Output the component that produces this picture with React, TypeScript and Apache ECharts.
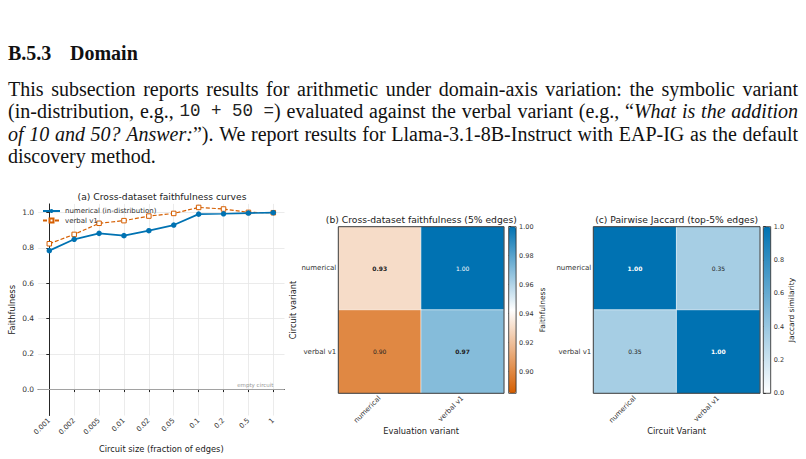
import React, { useEffect, useRef } from 'react';
import * as echarts from 'echarts';

// ---- (a) faithfulness curves ----
const sizeLabels = ['0.001', '0.002', '0.005', '0.01', '0.02', '0.05', '0.1', '0.2', '0.5', '1'];
const numericalCurve = [0.785, 0.849, 0.883, 0.870, 0.898, 0.930, 0.992, 0.994, 0.998, 1.0];
const verbalCurve = [0.824, 0.877, 0.940, 0.955, 0.981, 0.996, 1.030, 1.021, 1.002, 1.0];
const faithTicks = [0, 0.2, 0.4, 0.6, 0.8, 1.0];
const seriesNames = ['numerical (in-distribution)', 'verbal v1'];

// ---- (b) / (c) heatmaps: rows = circuit variant, cols = evaluation variant ----
const variants = ['numerical', 'verbal v1'];
const crossFaith = [
  [0.93, 1.0],
  [0.90, 0.97],
];
const jaccard = [
  [1.0, 0.35],
  [0.35, 1.0],
];
const crossTicks = [0.90, 0.92, 0.94, 0.96, 0.98, 1.0];
const crossRange = [0.885, 1.0];
const jaccardTicks = [0, 0.2, 0.4, 0.6, 0.8, 1.0];

// ---- paper text ----
type Tok = { t: string; f: 'r' | 'i' | 'm'; g?: boolean };
const words = (s: string, f: 'r' | 'i' = 'r'): Tok[] => s.split(' ').map((t) => ({ t, f }));
const headingParts = ['B.5.3', 'Domain'];
const paragraphLines: Tok[][] = [
  words('This subsection reports results for arithmetic under domain-axis variation: the symbolic variant'),
  [
    ...words('(in-distribution, e.g.,'),
    { t: '10 + 50 =', f: 'm' },
    { t: ')', f: 'r', g: true },
    ...words('evaluated against the verbal variant (e.g.,'),
    { t: '\u201c', f: 'r' },
    { t: 'What', f: 'i', g: true },
    ...words('is the addition', 'i'),
  ],
  [
    ...words('of 10 and 50? Answer:', 'i'),
    { t: '\u201d).', f: 'r', g: true },
    ...words('We report results for Llama-3.1-8B-Instruct with EAP-IG as the default'),
  ],
  words('discovery method.'),
];

const BLUE = '#0072B2';
const ORANGE = '#D55E00';
const SERIF = 'Liberation Serif';
const MONO = 'Liberation Mono';
const BODY = 20;
const MONO_SIZE = 17.5;
const TEXT_LEFT = 8;
const TEXT_RIGHT = 798;
const lineCenters = [88.5, 111, 133.5, 156];

const fontCss = (f: 'r' | 'i' | 'm') =>
  f === 'm' ? `${MONO_SIZE}px '${MONO}'` : `${f === 'i' ? 'italic ' : ''}${BODY}px '${SERIF}'`;

// Lays a paragraph line out as rich text; justified lines get stretched inter-word spaces.
function buildLine(tokens: Tok[], justify: boolean) {
  const ctx = document.createElement('canvas').getContext('2d')!;
  const measure = (t: string, f: 'r' | 'i' | 'm') => {
    ctx.font = fontCss(f);
    return ctx.measureText(t).width;
  };
  const total = tokens.reduce((s, tk) => s + measure(tk.t, tk.f), 0);
  const gaps = tokens.filter((tk, i) => i > 0 && !tk.g).length;
  const gap = justify ? (TEXT_RIGHT - TEXT_LEFT - total) / gaps : measure(' ', 'r');
  let text = '';
  tokens.forEach((tk, i) => {
    if (i > 0 && !tk.g) text += '{s| }';
    text += `{${tk.f}|${tk.t}}`;
  });
  const rich = {
    r: { fontFamily: SERIF, fontSize: BODY, fill: '#111' },
    i: { fontFamily: SERIF, fontSize: BODY, fontStyle: 'italic', fill: '#111' },
    m: { fontFamily: MONO, fontSize: MONO_SIZE, fill: '#222' },
    s: { fontFamily: SERIF, fontSize: BODY, width: gap },
  };
  return { text, rich };
}

function heatCells(matrix: number[][], darkFrom: number) {
  const out: any[] = [];
  matrix.forEach((row, r) =>
    row.forEach((v, c) =>
      out.push({
        value: [c, r, v],
        label: { fontWeight: r === c ? 'bold' : 'normal', color: v >= darkFrom ? '#ffffff' : '#222222' },
      })
    )
  );
  return out;
}

function buildOption(): any {
  const paper: any[] = paragraphLines.map((tokens, i) => {
    const { text, rich } = buildLine(tokens, i < paragraphLines.length - 1);
    return {
      type: 'text',
      x: TEXT_LEFT,
      y: lineCenters[i],
      style: { text, rich, fontFamily: SERIF, fontSize: BODY, fill: '#111', verticalAlign: 'middle', align: 'left' },
    };
  });
  paper.push({
    type: 'text',
    x: TEXT_LEFT,
    y: 52.5,
    style: {
      text: `{a|${headingParts[0]}}{b|${headingParts[1]}}`,
      rich: {
        a: { fontFamily: SERIF, fontSize: BODY, fontWeight: 'bold', fill: '#111', width: 62 },
        b: { fontFamily: SERIF, fontSize: BODY, fontWeight: 'bold', fill: '#111' },
      },
      verticalAlign: 'middle',
      align: 'left',
    },
  });

  const titleStyle = { fontFamily: 'DejaVu Sans', fontSize: 9.2, fill: '#222', align: 'center', verticalAlign: 'middle' };
  const titles = [
    { type: 'text', x: 162, y: 196, style: { ...titleStyle, text: '(a) Cross-dataset faithfulness curves' } },
    { type: 'text', x: 421.3, y: 219, style: { ...titleStyle, text: '(b) Cross-dataset faithfulness (5% edges)' } },
    { type: 'text', x: 676.6, y: 219, style: { ...titleStyle, text: '(c) Pairwise Jaccard (top-5% edges)' } },
  ];

  const idx = sizeLabels.map((_, i) => i);
  const spine = { color: '#262626', width: 1 };
  const gridLine = { show: true, lineStyle: { color: '#e6e6e6', width: 0.8 } };
  const nameStyle = { fontSize: 8.3, color: '#222' };
  const heatX = (name: string, gridIndex: number) => ({
    type: 'category',
    gridIndex,
    data: variants,
    axisLine: { show: false },
    axisTick: { show: false },
    axisLabel: { rotate: 45, fontSize: 7, color: '#333', margin: 4 },
    name,
    nameLocation: 'middle',
    nameGap: 31,
    nameTextStyle: nameStyle,
  });
  const heatY = (gridIndex: number, name?: string) => ({
    type: 'category',
    gridIndex,
    data: variants,
    inverse: true,
    axisLine: { show: false },
    axisTick: { show: false },
    axisLabel: { fontSize: 7, color: '#333', margin: 2 },
    name,
    nameLocation: 'middle',
    nameGap: 39,
    nameRotate: 90,
    nameTextStyle: nameStyle,
  });
  const barGrid = (left: number) => ({
    left,
    top: 226.7,
    width: 7.4,
    height: 166.6,
    show: true,
    borderColor: '#222',
    borderWidth: 0.8,
    backgroundColor: 'transparent',
    z: 10,
  });
  const heatGrid = (left: number, width: number) => ({
    left,
    top: 226.7,
    width,
    height: 166.6,
    show: true,
    borderColor: '#3a3a3a',
    borderWidth: 1,
    backgroundColor: 'transparent',
    z: 3,
  });

  return {
    animation: false,
    backgroundColor: '#ffffff',
    textStyle: { fontFamily: 'DejaVu Sans' },
    graphic: [...paper, ...titles],
    legend: {
      data: seriesNames,
      left: 42,
      top: 207.5,
      orient: 'vertical',
      itemWidth: 17,
      itemHeight: 5,
      itemGap: 2.5,
      padding: 0,
      textStyle: { fontSize: 7, color: '#333' },
    },
    grid: [
      { left: 38.1, top: 203.9, width: 246.4, height: 211.6 },
      heatGrid(338.3, 165.7),
      heatGrid(593.3, 166.7),
      barGrid(508.7),
      barGrid(763.3),
    ],
    xAxis: [
      {
        type: 'value',
        gridIndex: 0,
        min: -0.45,
        max: 9.45,
        axisLine: { show: true, lineStyle: spine },
        axisTick: { show: true, length: 3, customValues: idx, lineStyle: spine },
        axisLabel: {
          customValues: idx,
          formatter: (v: number) => sizeLabels[Math.round(v)],
          rotate: 45,
          fontSize: 7,
          color: '#333',
          margin: 4,
        },
        splitLine: gridLine,
        name: 'Circuit size (fraction of edges)',
        nameLocation: 'middle',
        nameGap: 29,
        nameTextStyle: nameStyle,
      },
      heatX('Evaluation variant', 1),
      heatX('Circuit Variant', 2),
      { type: 'value', gridIndex: 3, show: false },
      { type: 'value', gridIndex: 4, show: false },
    ],
    yAxis: [
      {
        type: 'value',
        gridIndex: 0,
        min: -0.15,
        max: 1.05,
        axisLine: { show: true, lineStyle: spine },
        axisTick: { show: true, length: 3, customValues: faithTicks, lineStyle: spine },
        axisLabel: { customValues: faithTicks, formatter: (v: number) => v.toFixed(1), fontSize: 7.5, color: '#333', margin: 4 },
        splitLine: gridLine,
        name: 'Faithfulness',
        nameLocation: 'middle',
        nameGap: 22,
        nameRotate: 90,
        nameTextStyle: nameStyle,
      },
      heatY(1, 'Circuit variant'),
      heatY(2),
      {
        type: 'value',
        gridIndex: 3,
        position: 'right',
        min: crossRange[0],
        max: crossRange[1],
        axisLine: { show: false },
        axisTick: { show: true, length: 2.5, customValues: crossTicks, lineStyle: { color: '#222', width: 0.8 } },
        axisLabel: { customValues: crossTicks, formatter: (v: number) => v.toFixed(2), fontSize: 6.5, color: '#333', margin: 3 },
        splitLine: { show: false },
        name: 'Faithfulness',
        nameLocation: 'middle',
        nameRotate: 90,
        nameGap: 22,
        nameTextStyle: { fontSize: 7.5, color: '#222' },
      },
      {
        type: 'value',
        gridIndex: 4,
        position: 'right',
        min: 0,
        max: 1,
        axisLine: { show: false },
        axisTick: { show: true, length: 2.5, customValues: jaccardTicks, lineStyle: { color: '#222', width: 0.8 } },
        axisLabel: { customValues: jaccardTicks, formatter: (v: number) => v.toFixed(1), fontSize: 6.5, color: '#333', margin: 3 },
        splitLine: { show: false },
        name: 'Jaccard similarity',
        nameLocation: 'middle',
        nameRotate: 90,
        nameGap: 17,
        nameTextStyle: { fontSize: 7.5, color: '#222' },
      },
    ],
    visualMap: [
      {
        type: 'continuous',
        seriesIndex: 2,
        min: crossRange[0],
        max: crossRange[1],
        inRange: { color: [ORANGE, '#ffffff', BLUE] },
        left: 508.7,
        top: 226.7,
        itemWidth: 7.4,
        itemHeight: 166.6,
        calculable: false,
        hoverLink: false,
        padding: 0,
        orient: 'vertical',
      },
      {
        type: 'continuous',
        seriesIndex: 3,
        min: 0,
        max: 1,
        inRange: { color: ['#ffffff', BLUE] },
        left: 763.3,
        top: 226.7,
        itemWidth: 7.4,
        itemHeight: 166.6,
        calculable: false,
        hoverLink: false,
        padding: 0,
        orient: 'vertical',
      },
    ],
    series: [
      {
        name: seriesNames[0],
        type: 'line',
        xAxisIndex: 0,
        yAxisIndex: 0,
        data: numericalCurve.map((v, i) => [i, v]),
        z: 4,
        color: BLUE,
        lineStyle: { color: BLUE, width: 1.7 },
        symbol: 'circle',
        symbolSize: 5.5,
        itemStyle: { color: BLUE },
        markLine: {
          silent: true,
          symbol: 'none',
          data: [{ yAxis: 0 }],
          lineStyle: { color: '#b0b0b0', width: 0.9, type: 'solid' },
          label: {
            show: true,
            position: 'insideEndTop',
            formatter: 'empty circuit',
            fontSize: 5.5,
            color: '#999',
            distance: [11, 1],
          },
        },
      },
      {
        name: seriesNames[1],
        type: 'line',
        xAxisIndex: 0,
        yAxisIndex: 0,
        data: verbalCurve.map((v, i) => [i, v]),
        z: 3,
        color: ORANGE,
        lineStyle: { color: ORANGE, width: 1.2, type: [4, 2] },
        symbol: 'rect',
        symbolSize: 4.5,
        itemStyle: { color: '#ffffff', borderColor: ORANGE, borderWidth: 1 },
      },
      {
        type: 'heatmap',
        xAxisIndex: 1,
        yAxisIndex: 1,
        data: heatCells(crossFaith, 0.99),
        label: { show: true, fontSize: 6, formatter: (p: any) => p.value[2].toFixed(2) },
        itemStyle: { borderColor: 'rgba(255,255,255,0.6)', borderWidth: 1 },
        emphasis: { disabled: true },
      },
      {
        type: 'heatmap',
        xAxisIndex: 2,
        yAxisIndex: 2,
        data: heatCells(jaccard, 0.8),
        label: { show: true, fontSize: 6, formatter: (p: any) => p.value[2].toFixed(2) },
        itemStyle: { borderColor: 'rgba(255,255,255,0.6)', borderWidth: 1 },
        emphasis: { disabled: true },
      },
    ],
  };
}

export default function App() {
  const ref = useRef<HTMLDivElement>(null);
  useEffect(() => {
    const chart = echarts.init(ref.current!, null, { renderer: 'svg' });
    chart.setOption(buildOption());
    return () => chart.dispose();
  }, []);
  return (
    <div
      ref={ref}
      style={{ position: 'fixed', left: 0, top: 0, width: 806, height: 459, background: '#ffffff' }}
    />
  );
}
